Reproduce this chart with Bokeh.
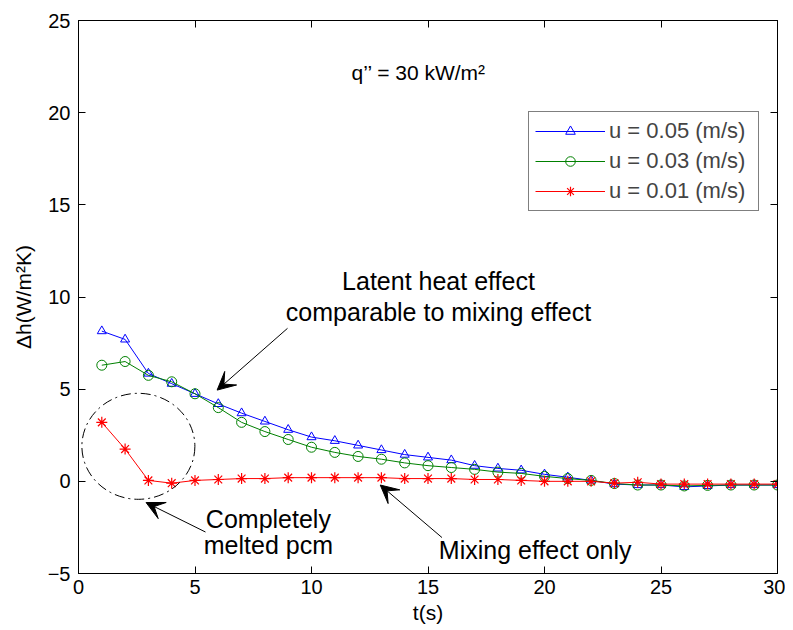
from bokeh.plotting import figure
from bokeh.models import (LinearAxis, FixedTicker, Arrow, VeeHead, Range1d,
                          Legend, LegendItem)
from bokeh.core.properties import value
from bokeh.embed import file_html
from bokeh.resources import INLINE

# ---- data ----
t = list(range(1, 31))
u005 = [8.15, 7.7, 5.85, 5.3, 4.75, 4.2, 3.7, 3.25, 2.8, 2.4,
        2.2, 1.95, 1.7, 1.45, 1.3, 1.15, 0.85, 0.7, 0.6, 0.38,
        0.22, 0.05, -0.15, -0.2, -0.2, -0.3, -0.25, -0.2, -0.2, -0.2]
u003 = [6.3, 6.5, 5.75, 5.4, 4.75, 4.0, 3.2, 2.7, 2.27, 1.85,
        1.57, 1.35, 1.2, 1.0, 0.85, 0.75, 0.65, 0.5, 0.43, 0.27,
        0.15, 0.05, -0.12, -0.2, -0.2, -0.25, -0.22, -0.2, -0.2, -0.2]
u001 = [3.2, 1.75, 0.05, -0.1, 0.05, 0.1, 0.15, 0.15, 0.2, 0.2,
        0.2, 0.2, 0.2, 0.15, 0.15, 0.15, 0.1, 0.1, 0.05, 0.0,
        0.0, 0.0, -0.1, -0.05, -0.15, -0.15, -0.15, -0.15, -0.15, -0.15]
labels = ["u = 0.05 (m/s)", "u = 0.03 (m/s)", "u = 0.01 (m/s)"]
x_ticks = [0, 5, 10, 15, 20, 25, 30]
y_ticks = [-5, 0, 5, 10, 15, 20, 25]

FONT = "Liberation Sans"
BLUE = "#0000ff"
GREEN = "#008000"
RED = "#ff0000"

p = figure(width=785, height=626, x_range=Range1d(0, 30), y_range=Range1d(-5, 25),
           output_backend="svg", toolbar_location=None,
           min_border_left=78, min_border_right=8, min_border_top=20, min_border_bottom=53)
p.grid.visible = False
p.outline_line_color = "black"
p.background_fill_color = "white"
p.border_fill_color = "white"

def style_axis(ax, ticks, standoff, show_labels=True):
    ax.ticker = FixedTicker(ticks=ticks)
    ax.major_tick_in = 7
    ax.major_tick_out = 0
    ax.minor_tick_in = 0
    ax.minor_tick_out = 0
    ax.axis_line_color = "black"
    ax.major_tick_line_color = "black"
    ax.major_label_text_font = FONT
    if show_labels:
        ax.major_label_text_color = "black"
        ax.major_label_text_font_size = "20px"
        ax.major_label_standoff = standoff
    else:
        ax.major_label_text_color = None
        ax.major_label_text_font_size = "1px"
        ax.major_label_standoff = 0

style_axis(p.xaxis[0], x_ticks, 6)
style_axis(p.yaxis[0], y_ticks, 8)
p.xaxis.axis_label = "t(s)"
p.yaxis.axis_label = "Δh(W/m²K)"
for ax in (p.xaxis[0], p.yaxis[0]):
    ax.axis_label_text_font = FONT
    ax.axis_label_text_font_size = "21px"
    ax.axis_label_text_font_style = "normal"
    ax.axis_label_text_color = "black"
p.xaxis[0].axis_label_standoff = 4
p.yaxis[0].axis_label_standoff = 10

top = LinearAxis()
style_axis(top, x_ticks, 0, show_labels=False)
p.add_layout(top, "above")
right = LinearAxis()
style_axis(right, y_ticks, 0, show_labels=False)
p.add_layout(right, "right")

# ---- series ----
lb = p.line(t, u005, line_color=BLUE, line_width=1)
mb = p.scatter(t, u005, marker="triangle", size=9, line_color=BLUE, fill_color=None)
lg = p.line(t, u003, line_color=GREEN, line_width=1)
mg = p.scatter(t, u003, marker="circle", size=10, line_color=GREEN, fill_color=None)
lr = p.line(t, u001, line_color=RED, line_width=1)
mr = p.scatter(t, u001, marker="asterisk", size=11, line_color=RED, line_width=1.2)

legend = Legend(items=[LegendItem(label=labels[0], renderers=[lb, mb]),
                       LegendItem(label=labels[1], renderers=[lg, mg]),
                       LegendItem(label=labels[2], renderers=[lr, mr])],
                location=(450, 362))
legend.label_text_font = FONT
legend.label_text_font_size = "22px"
legend.glyph_width = 70
legend.glyph_height = 24
legend.label_height = 24
legend.label_width = 143
legend.spacing = 4
legend.padding = 6
legend.margin = 0
legend.label_standoff = 4
legend.border_line_color = "black"
legend.border_line_width = 1
legend.background_fill_alpha = 1
p.add_layout(legend)

# ---- annotations ----
p.text(x=[14.6], y=[22.2], text=["q’’ = 30 kW/m²"], text_font=value(FONT),
       text_font_size="21px", text_align="center", text_baseline="middle", text_color="black")
p.text(x=[15.45, 15.45], y=[10.85, 9.2],
       text=["Latent heat effect", "comparable to mixing effect"], text_font=value(FONT),
       text_font_size="25px", text_align="center", text_baseline="middle", text_color="black")
p.text(x=[8.15, 8.15], y=[-2.05, -3.45], text=["Completely", "melted pcm"], text_font=value(FONT),
       text_font_size="25px", text_align="center", text_baseline="middle", text_color="black")
p.text(x=[19.6], y=[-3.75], text=["Mixing effect only"], text_font=value(FONT),
       text_font_size="25px", text_align="center", text_baseline="middle", text_color="black")

p.ellipse(x=[2.57], y=[1.9], width=[4.85], height=[5.75], fill_color=None,
          line_color="black", line_dash="10 4 2 4", line_width=1)

for (xs, ys, xe, ye) in [(8.97, 8.3, 5.95, 4.95), (5.45, -2.75, 2.9, -1.15), (15.6, -3.05, 12.95, -0.2)]:
    p.add_layout(Arrow(end=VeeHead(size=18, fill_color="black", line_color="black"),
                       x_start=xs, y_start=ys, x_end=xe, y_end=ye,
                       line_color="black", line_width=1))

open("out.html", "w").write(file_html(p, INLINE))
